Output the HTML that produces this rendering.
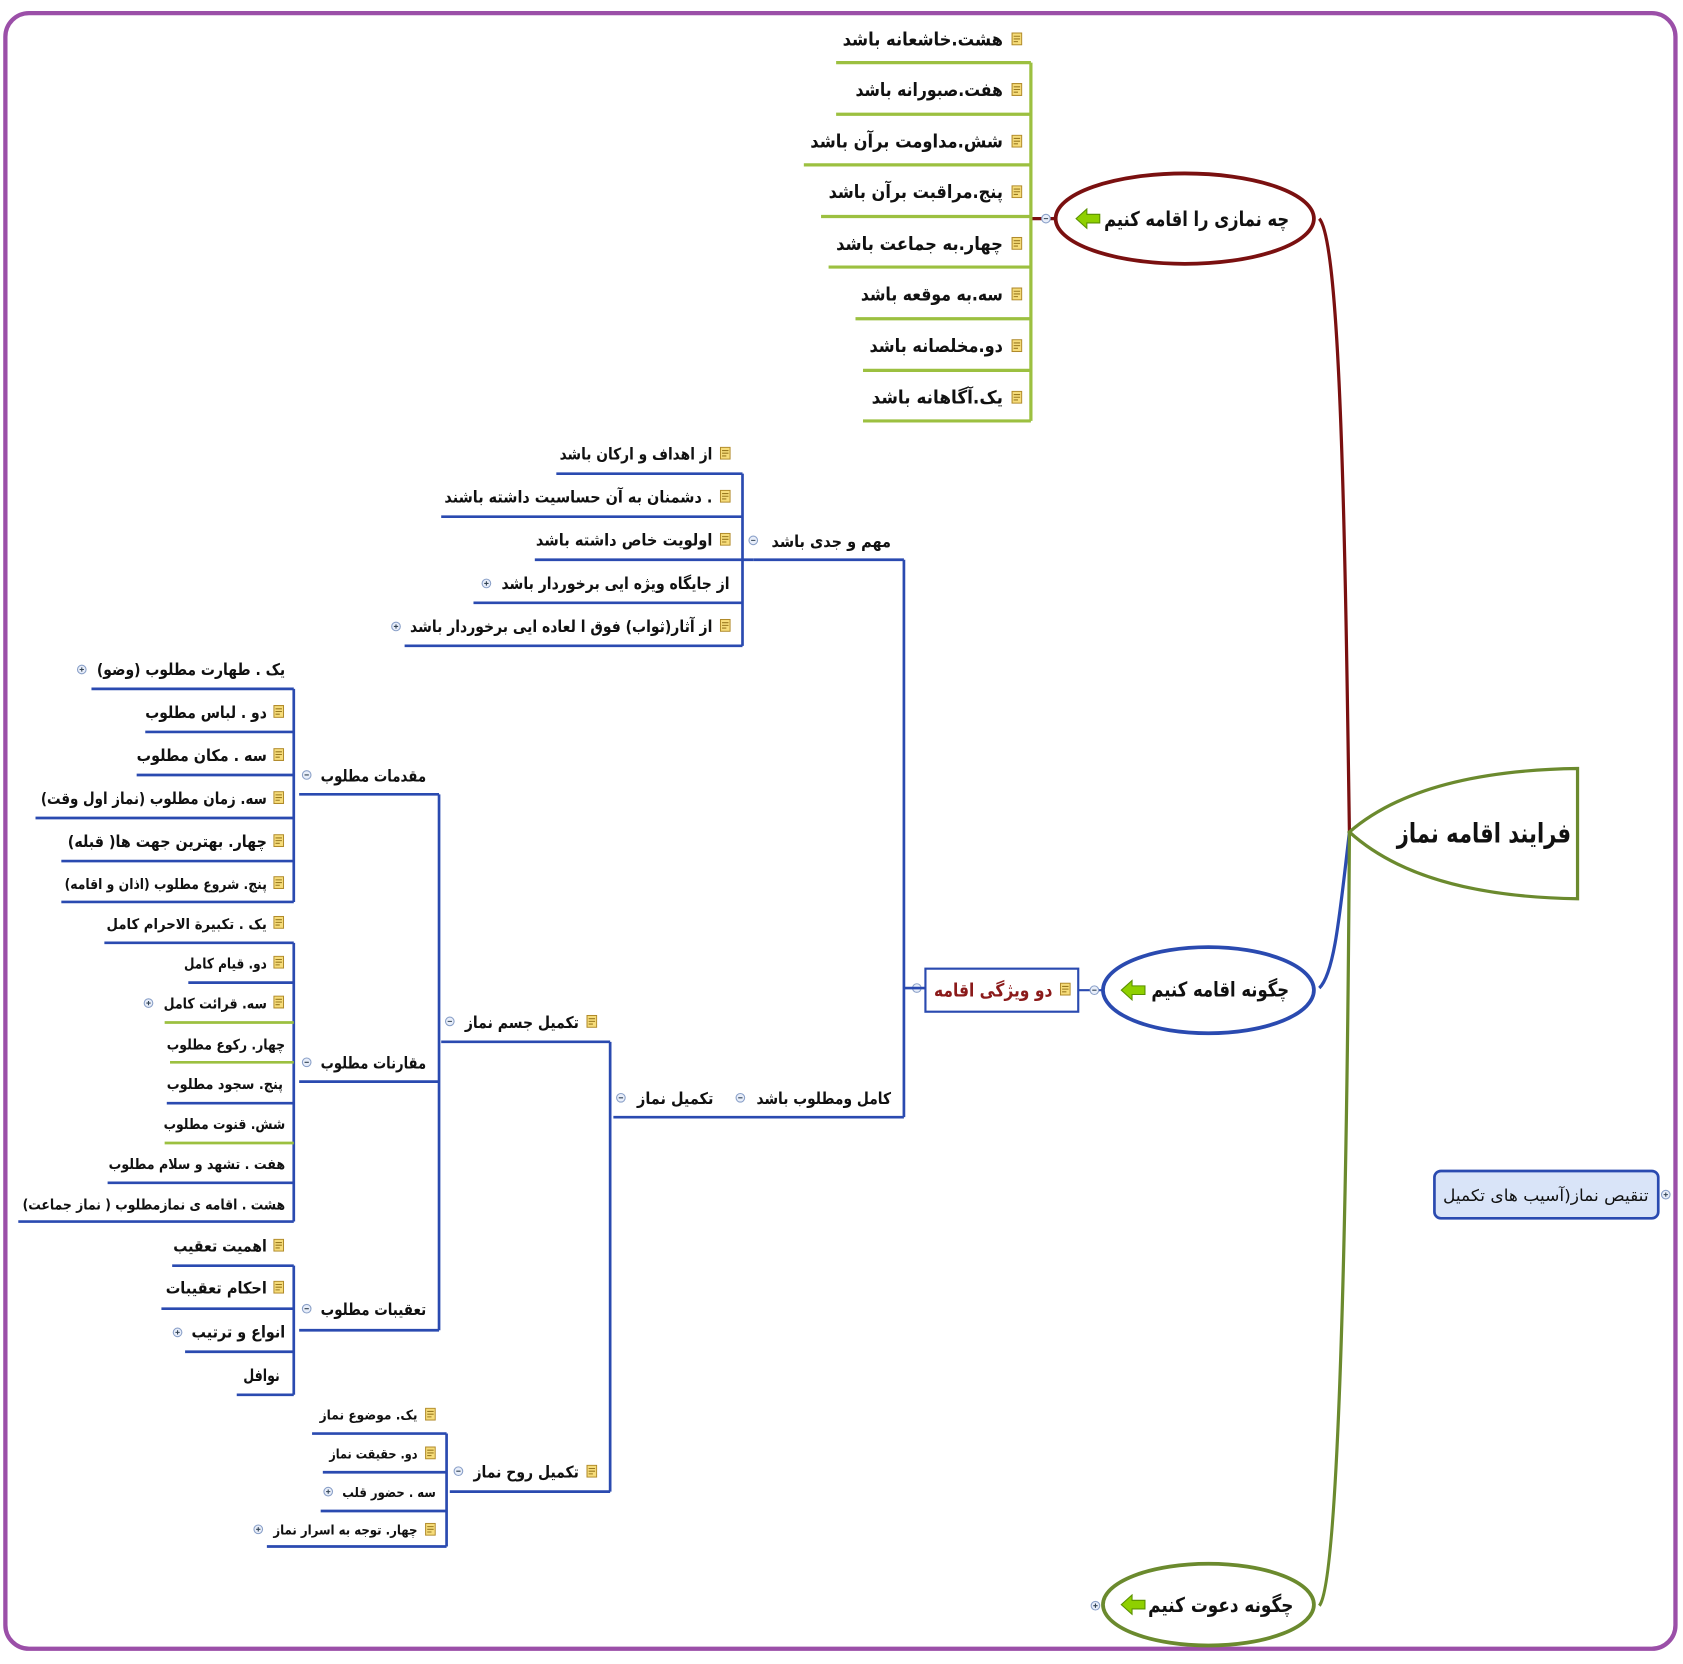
<!DOCTYPE html>
<html><head><meta charset="utf-8"><style>
html,body{margin:0;padding:0;background:#fff;width:1683px;height:1664px;overflow:hidden}
svg text{font-family:"DejaVu Sans","Liberation Sans",sans-serif;font-weight:bold;fill:#111;text-anchor:end}
</style></head><body>
<svg width="1683" height="1664" viewBox="0 0 1564 1546" xmlns="http://www.w3.org/2000/svg">
<defs>
<symbol id="n" viewBox="0 0 10 12"><rect x="0.5" y="0.5" width="9" height="11" fill="#f6dc7a" stroke="#b08a2a"/><line x1="2" y1="3.5" x2="8" y2="3.5" stroke="#9a7a20"/><line x1="2" y1="6" x2="8" y2="6" stroke="#9a7a20"/><line x1="2" y1="8.5" x2="6" y2="8.5" stroke="#9a7a20"/></symbol>
<symbol id="p" viewBox="0 0 10 10"><circle cx="5" cy="5" r="4" fill="#e8eefa" stroke="#8aa0c8"/><line x1="3" y1="5" x2="7" y2="5" stroke="#345"/><line x1="5" y1="3" x2="5" y2="7" stroke="#345"/></symbol>
<symbol id="m" viewBox="0 0 10 10"><circle cx="5" cy="5" r="4" fill="#e8eefa" stroke="#8aa0c8"/><line x1="3" y1="5" x2="7" y2="5" stroke="#345"/></symbol>
<symbol id="a" viewBox="0 0 24 20"><path d="M1,10 L11,1 L11,6 L23,6 L23,14 L11,14 L11,19 Z" fill="#8fd000" stroke="#5a9000"/></symbol>
</defs>
<rect x="5" y="12" width="1552" height="1520" rx="22" fill="none" stroke="#9b4fa8" stroke-width="4"/>

<path d="M1254,773 C1250,500 1246,225 1226,203" fill="none" stroke="#7a1010" stroke-width="3"/>
<path d="M1254,773 C1245,850 1240,905 1226,918" fill="none" stroke="#2a4ab0" stroke-width="3"/>
<path d="M1254,773 C1252,1100 1245,1470 1226,1492" fill="none" stroke="#6b8a2e" stroke-width="3"/>

<path d="M1254,773 Q1320,716 1466,714 L1466,835 Q1320,833 1254,773 Z" fill="#fff" stroke="#6b8a2e" stroke-width="3"/>
<text x="1460" y="783" style="font-size:25px" textLength="162" lengthAdjust="spacingAndGlyphs">فرایند اقامه نماز</text>

<ellipse cx="1101" cy="203" rx="120" ry="42" fill="#fff" stroke="#7a1010" stroke-width="3.5"/>
<text x="1198" y="210" style="font-size:19px" textLength="172" lengthAdjust="spacingAndGlyphs">چه نمازی را اقامه کنیم</text>
<use href="#a" x="999" y="193" width="24" height="20"/>
<line x1="958" y1="203" x2="980" y2="203" stroke="#7a1010" stroke-width="3"/>
<use href="#m" x="967" y="198" width="10" height="10"/>

<g stroke="#9cc040" stroke-width="3" fill="none">
<path d="M958,58 V391"/>
<path d="M777,58 H958"/><path d="M777,106 H958"/><path d="M747,153 H958"/><path d="M763,201 H958"/>
<path d="M770,248 H958"/><path d="M795,296 H958"/><path d="M802,344 H958"/><path d="M802,391 H958"/>
</g>
<g style="font-size:17px">
<text x="932" y="42" textLength="149" lengthAdjust="spacingAndGlyphs">هشت.خاشعانه باشد</text>
<text x="932" y="89" textLength="137" lengthAdjust="spacingAndGlyphs">هفت.صبورانه باشد</text>
<text x="932" y="137" textLength="179" lengthAdjust="spacingAndGlyphs">شش.مداومت برآن باشد</text>
<text x="932" y="184" textLength="162" lengthAdjust="spacingAndGlyphs">پنج.مراقبت برآن باشد</text>
<text x="932" y="232" textLength="155" lengthAdjust="spacingAndGlyphs">چهار.به جماعت باشد</text>
<text x="932" y="279" textLength="132" lengthAdjust="spacingAndGlyphs">سه.به موقعه باشد</text>
<text x="932" y="327" textLength="124" lengthAdjust="spacingAndGlyphs">دو.مخلصانه باشد</text>
<text x="932" y="375" textLength="122" lengthAdjust="spacingAndGlyphs">یک.آگاهانه باشد</text>
</g>
<g><use href="#n" x="940" y="30" width="10" height="12"/><use href="#n" x="940" y="77" width="10" height="12"/><use href="#n" x="940" y="125" width="10" height="12"/><use href="#n" x="940" y="172" width="10" height="12"/><use href="#n" x="940" y="220" width="10" height="12"/><use href="#n" x="940" y="267" width="10" height="12"/><use href="#n" x="940" y="315" width="10" height="12"/><use href="#n" x="940" y="363" width="10" height="12"/></g>

<ellipse cx="1123" cy="920" rx="98" ry="40" fill="#fff" stroke="#2a4ab0" stroke-width="3.5"/>
<text x="1198" y="926" style="font-size:19px" textLength="128" lengthAdjust="spacingAndGlyphs">چگونه اقامه کنیم</text>
<use href="#a" x="1041" y="910" width="24" height="20"/>
<line x1="1002" y1="920" x2="1025" y2="920" stroke="#2a4ab0" stroke-width="2"/>
<use href="#m" x="1012" y="915" width="10" height="10"/>
<rect x="860" y="900" width="142" height="40" fill="#fff" stroke="#2a4ab0" stroke-width="2"/>
<text x="978" y="926" style="font-size:17px;fill:#8b1a1a" textLength="110" lengthAdjust="spacingAndGlyphs">دو ویژگی اقامه</text>
<use href="#n" x="985" y="913" width="10" height="12"/>
<use href="#m" x="847" y="913" width="10" height="10"/>

<g stroke="#2a4ab0" stroke-width="2.5" fill="none">
<path d="M840,520 V1038"/><path d="M840,918 H860"/>
<path d="M700,520 H840"/><path d="M570,1038 H840"/>
<path d="M690,440 V600"/>
<path d="M517,440 H690"/><path d="M410,480 H690"/><path d="M497,520 H700"/><path d="M440,560 H690"/><path d="M376,600 H690"/>
<path d="M567,968 V1386"/><path d="M410,968 H567"/><path d="M418,1386 H567"/>
<path d="M408,738 V1236"/><path d="M278,738 H408"/><path d="M278,1005 H408"/><path d="M278,1236 H408"/>
<path d="M273,640 V838"/>
<path d="M85,640 H273"/><path d="M135,680 H273"/><path d="M127,720 H273"/><path d="M33,760 H273"/><path d="M57,800 H273"/><path d="M57,838 H273"/>
<path d="M273,876 V1135"/>
<path d="M97,876 H273"/><path d="M175,913 H273"/><path d="M155,1025 H273"/><path d="M100,1099 H273"/><path d="M17,1135 H273"/>
<path d="M273,1176 V1296"/>
<path d="M160,1176 H273"/><path d="M150,1216 H273"/><path d="M172,1256 H273"/><path d="M220,1296 H273"/>
<path d="M415,1332 V1437"/>
<path d="M290,1332 H415"/><path d="M300,1368 H415"/><path d="M298,1404 H415"/><path d="M248,1437 H415"/>
</g>
<g stroke="#9cc040" stroke-width="2.5" fill="none">
<path d="M153,950 H273"/><path d="M158,987 H273"/><path d="M153,1062 H273"/>
</g>

<g style="font-size:15px">
<text x="828" y="508" textLength="111" lengthAdjust="spacingAndGlyphs">مهم و جدی باشد</text>
<text x="828" y="1026" textLength="125" lengthAdjust="spacingAndGlyphs">کامل ومطلوب  باشد</text>
<text x="663" y="1026" textLength="71" lengthAdjust="spacingAndGlyphs">تکمیل  نماز</text>
<text x="662" y="427" textLength="142" lengthAdjust="spacingAndGlyphs">از اهداف و ارکان باشد</text>
<text x="662" y="467" textLength="249" lengthAdjust="spacingAndGlyphs">دشمنان به آن حساسیت داشته باشند .</text>
<text x="662" y="507" textLength="164" lengthAdjust="spacingAndGlyphs">اولویت خاص داشته باشد</text>
<text x="678" y="547" textLength="212" lengthAdjust="spacingAndGlyphs">از جایگاه ویژه ایی برخوردار باشد</text>
<text x="662" y="587" textLength="281" lengthAdjust="spacingAndGlyphs">از  آثار(ثواب) فوق ا لعاده ایی برخوردار باشد</text>
<text x="538" y="955" textLength="106" lengthAdjust="spacingAndGlyphs">تکمیل جسم نماز</text>
<text x="538" y="1373" textLength="98" lengthAdjust="spacingAndGlyphs">تکمیل روح نماز</text>
<text x="396" y="726" textLength="98" lengthAdjust="spacingAndGlyphs">مقدمات مطلوب</text>
<text x="396" y="993" textLength="98" lengthAdjust="spacingAndGlyphs">مقارنات مطلوب</text>
<text x="396" y="1222" textLength="98" lengthAdjust="spacingAndGlyphs">تعقیبات مطلوب</text>
<text x="265" y="627" textLength="175" lengthAdjust="spacingAndGlyphs">(یک . طهارت مطلوب (وضو</text>
<text x="248" y="667" textLength="113" lengthAdjust="spacingAndGlyphs">دو . لباس مطلوب</text>
<text x="248" y="707" textLength="121" lengthAdjust="spacingAndGlyphs">سه  . مکان مطلوب</text>
<text x="248" y="747" textLength="210" lengthAdjust="spacingAndGlyphs">(سه. زمان مطلوب (نماز اول وقت</text>
<text x="248" y="787" textLength="185" lengthAdjust="spacingAndGlyphs">(چهار. بهترین جهت ها( قبله</text>
</g>
<g style="font-size:13.5px">
<text x="248" y="826" textLength="188" lengthAdjust="spacingAndGlyphs">(پنج. شروع مطلوب (اذان و اقامه</text>
<text x="248" y="863" textLength="149" lengthAdjust="spacingAndGlyphs">یک . تکبیرة الاحرام کامل</text>
<text x="248" y="900" textLength="77" lengthAdjust="spacingAndGlyphs">دو. قیام کامل</text>
<text x="248" y="937" textLength="96" lengthAdjust="spacingAndGlyphs">سه. قرائت کامل</text>
<text x="265" y="975" textLength="110" lengthAdjust="spacingAndGlyphs">چهار. رکوع مطلوب</text>
<text x="263" y="1012" textLength="108" lengthAdjust="spacingAndGlyphs">پنج. سجود مطلوب</text>
<text x="265" y="1049" textLength="113" lengthAdjust="spacingAndGlyphs">شش. قنوت مطلوب</text>
<text x="265" y="1086" textLength="164" lengthAdjust="spacingAndGlyphs">هفت . تشهد و سلام مطلوب</text>
<text x="265" y="1124" textLength="244" lengthAdjust="spacingAndGlyphs">(هشت . اقامه ی نمازمطلوب ( نماز جماعت</text>
</g>
<g style="font-size:15px">
<text x="248" y="1163" textLength="87" lengthAdjust="spacingAndGlyphs">اهمیت تعقیب</text>
<text x="248" y="1202" textLength="94" lengthAdjust="spacingAndGlyphs">احکام تعقیبات</text>
<text x="265" y="1243" textLength="87" lengthAdjust="spacingAndGlyphs">انواع و ترتیب</text>
<text x="260" y="1283" textLength="34" lengthAdjust="spacingAndGlyphs">نوافل</text>
</g>
<g style="font-size:12.5px">
<text x="388" y="1319" textLength="91" lengthAdjust="spacingAndGlyphs">یک. موضوع نماز</text>
<text x="388" y="1355" textLength="82" lengthAdjust="spacingAndGlyphs">دو. حقیقت نماز</text>
<text x="405" y="1391" textLength="87" lengthAdjust="spacingAndGlyphs">سه . حضور قلب</text>
<text x="388" y="1426" textLength="134" lengthAdjust="spacingAndGlyphs">چهار. توجه به اسرار نماز</text>
</g>
<g>
<use href="#n" x="669" y="415" width="10" height="12"/><use href="#n" x="669" y="455" width="10" height="12"/><use href="#n" x="669" y="495" width="10" height="12"/><use href="#n" x="669" y="575" width="10" height="12"/>
<use href="#n" x="545" y="943" width="10" height="12"/><use href="#n" x="545" y="1361" width="10" height="12"/>
<use href="#n" x="254" y="655" width="10" height="12"/><use href="#n" x="254" y="695" width="10" height="12"/><use href="#n" x="254" y="735" width="10" height="12"/><use href="#n" x="254" y="775" width="10" height="12"/><use href="#n" x="254" y="814" width="10" height="12"/>
<use href="#n" x="254" y="851" width="10" height="12"/><use href="#n" x="254" y="888" width="10" height="12"/><use href="#n" x="254" y="925" width="10" height="12"/>
<use href="#n" x="254" y="1151" width="10" height="12"/><use href="#n" x="254" y="1190" width="10" height="12"/>
<use href="#n" x="395" y="1308" width="10" height="12"/><use href="#n" x="395" y="1344" width="10" height="12"/><use href="#n" x="395" y="1415" width="10" height="12"/>
<use href="#m" x="695" y="497" width="10" height="10"/><use href="#m" x="683" y="1015" width="10" height="10"/><use href="#m" x="572" y="1015" width="10" height="10"/>
<use href="#m" x="413" y="944" width="10" height="10"/><use href="#m" x="421" y="1362" width="10" height="10"/>
<use href="#m" x="280" y="715" width="10" height="10"/><use href="#m" x="280" y="982" width="10" height="10"/><use href="#m" x="280" y="1211" width="10" height="10"/>
<use href="#p" x="447" y="537" width="10" height="10"/><use href="#p" x="363" y="577" width="10" height="10"/>
<use href="#p" x="71" y="617" width="10" height="10"/><use href="#p" x="133" y="927" width="10" height="10"/>
<use href="#p" x="160" y="1233" width="10" height="10"/><use href="#p" x="300" y="1381" width="10" height="10"/><use href="#p" x="235" y="1416" width="10" height="10"/>
</g>

<ellipse cx="1123" cy="1491" rx="98" ry="38" fill="#fff" stroke="#6b8a2e" stroke-width="3.5"/>
<text x="1202" y="1498" style="font-size:19px" textLength="135" lengthAdjust="spacingAndGlyphs">چگونه دعوت کنیم</text>
<use href="#a" x="1041" y="1481" width="24" height="20"/>
<use href="#p" x="1013" y="1487" width="10" height="10"/>

<rect x="1333" y="1088" width="208" height="44" rx="6" fill="#d9e4f8" stroke="#2a4ab0" stroke-width="2.5"/>
<text x="1532" y="1116" style="font-size:15px;font-weight:normal" textLength="191" lengthAdjust="spacingAndGlyphs">تنقیص نماز(آسیب های تکمیل</text>
<use href="#p" x="1543" y="1105" width="10" height="10"/>
</svg>
</body></html>
